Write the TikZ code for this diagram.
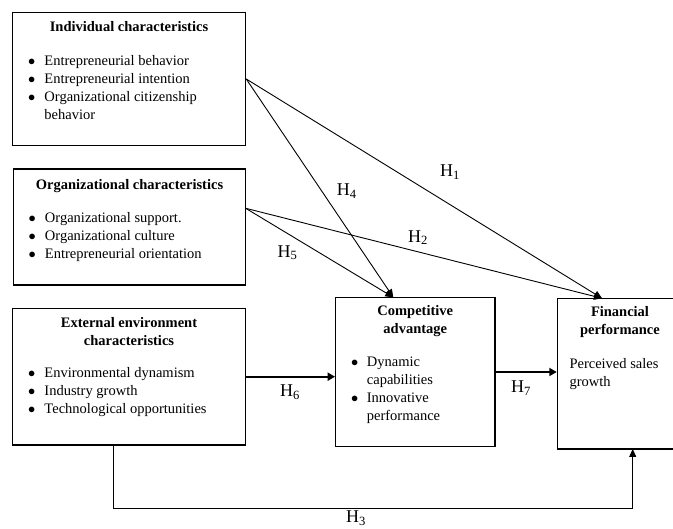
\documentclass[tikz,border=0pt]{standalone}
\usepackage{fontspec}
\setmainfont{Liberation Serif}
\usetikzlibrary{arrows.meta}

\begin{document}
\begin{tikzpicture}[x=1pt, y=-1pt,
  box/.style={draw, line width=1.1pt, rectangle, inner sep=0pt},
  title/.style={font=\fontsize{14.5}{18}\selectfont\bfseries, inner sep=0pt, anchor=base},
  list/.style={font=\fontsize{14.5}{18}\selectfont, inner sep=0pt, anchor=base west},
  hyp/.style={font=\fontsize{18}{20}\selectfont, inner sep=0pt, anchor=base west},
  link/.style={-{Triangle[length=8pt,width=7pt]}, line width=0.9pt},
  boldlink/.style={-{Triangle[length=7.5pt,width=8pt]}, line width=2.2pt}]
  \useasboundingbox (0,0) rectangle (673,529);
  \clip (0,0) rectangle (673,529);

  % Antecedent boxes
  \node[box, minimum width=233.4pt, minimum height=133.4pt] (indiv) at (129,79) {};
  \node[title] (indivtitle) at (129,31.3) {Individual characteristics};
  \node[list] (indivlist) at (28,65.5) {\begin{tabular}[t]{@{}p{16.3pt}@{}l@{}}
    $\bullet$ & Entrepreneurial behavior\\
    $\bullet$ & Entrepreneurial intention\\
    $\bullet$ & Organizational citizenship\\
              & behavior
  \end{tabular}};

  \node[box, minimum width=232.4pt, minimum height=116pt] (org) at (129.5,227) {};
  \node[title] (orgtitle) at (129.5,189.5) {Organizational characteristics};
  \node[list] (orglist) at (28.5,222.6) {\begin{tabular}[t]{@{}p{16.3pt}@{}l@{}}
    $\bullet$ & Organizational support.\\
    $\bullet$ & Organizational culture\\
    $\bullet$ & Entrepreneurial orientation
  \end{tabular}};

  \node[box, minimum width=233.4pt, minimum height=136.7pt] (ext) at (129,376.7) {};
  \node[title] (exttitle) at (129,327.5) {\begin{tabular}[t]{@{}c@{}}
    External environment\\ characteristics
  \end{tabular}};
  \node[list] (extlist) at (28,377.6) {\begin{tabular}[t]{@{}p{16.3pt}@{}l@{}}
    $\bullet$ & Environmental dynamism\\
    $\bullet$ & Industry growth\\
    $\bullet$ & Technological opportunities
  \end{tabular}};

  % Mediator and outcome
  \node[box, minimum width=159.3pt, minimum height=149.4pt] (comp) at (415.3,372) {};
  \node[title] (comptitle) at (415.3,316) {\begin{tabular}[t]{@{}c@{}}
    Competitive\\ advantage
  \end{tabular}};
  \node[list] (complist) at (351,367) {\begin{tabular}[t]{@{}p{15.7pt}@{}l@{}}
    $\bullet$ & Dynamic\\
              & capabilities\\
    $\bullet$ & Innovative\\
              & performance
  \end{tabular}};

  \node[box, minimum width=140pt, minimum height=150.7pt] (fin) at (627.3,373.7) {};
  \node[title] (fintitle) at (620,317) {\begin{tabular}[t]{@{}c@{}}
    Financial\\ performance
  \end{tabular}};
  \node[list] (finlist) at (569.3,368.6) {\begin{tabular}[t]{@{}l@{}}
    Perceived sales\\ growth
  \end{tabular}};

  % Arrow ends
  \coordinate (orgout) at (245.7,208.3);
  \coordinate (compin) at (393.3,297.3);
  \coordinate (finin) at (602,298.3);
  \coordinate (extout) at (113.7,445);
  \coordinate (finbot) at (632.7,449);

  % Hypotheses
  \draw[link] (indiv.east) -- (finin);
  \draw[link] (indiv.east) -- (compin);
  \draw[link] (orgout) -- (finin);
  \draw[link] (orgout) -- (compin);
  \draw[boldlink] (ext.east) -- (ext.east -| comp.west);
  \draw[boldlink] (comp.east) -- (comp.east -| fin.west);
  \draw[link] (extout) -- ++(0,63) -| (finbot);

  % Labels
  \node[hyp] (h1) at (440,176.7) {H\textsubscript{1}};
  \node[hyp] (h2) at (408,242.3) {H\textsubscript{2}};
  \node[hyp] (h3) at (346,523) {H\textsubscript{3}};
  \node[hyp] (h4) at (336.7,196) {H\textsubscript{4}};
  \node[hyp] (h5) at (277.3,257.3) {H\textsubscript{5}};
  \node[hyp] (h6) at (280,396.7) {H\textsubscript{6}};
  \node[hyp] (h7) at (511,393) {H\textsubscript{7}};
\end{tikzpicture}
\end{document}
